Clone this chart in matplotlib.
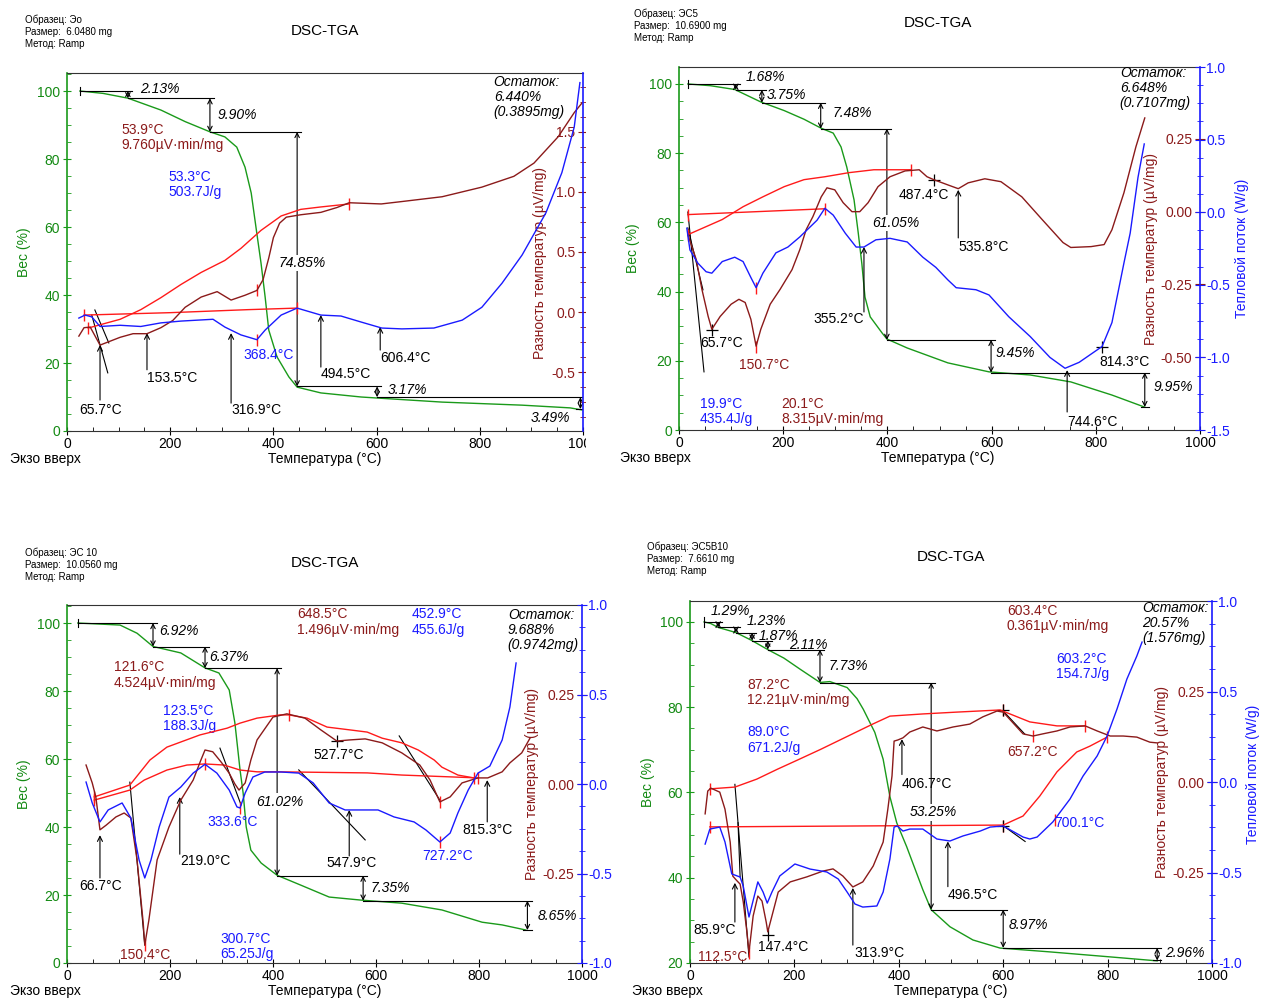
import matplotlib
matplotlib.use("Agg")
import matplotlib.pyplot as plt
from matplotlib.patches import Rectangle
from matplotlib.ticker import MultipleLocator, AutoMinorLocator, FormatStrFormatter

plt.rcParams['font.family'] = ['Liberation Sans', 'DejaVu Sans']
plt.rcParams['axes.unicode_minus'] = False

GREEN = '#1a9a1a'
GREEN_TXT = '#138a13'
BROWN = '#8b1a1a'
RED = '#ff1a1a'
BLUE = '#1a1aff'

# ---------------- панель 1: Эо ----------------
p1_tga_t = [25, 70, 118, 182, 229, 277, 306, 329, 345, 357, 368, 376, 384, 391, 407, 430, 446, 492, 570, 601, 727, 882, 975, 998]
p1_tga_w = [100, 99.3, 97.9, 94.4, 91.0, 88.0, 86.5, 83.5, 77.6, 70.0, 58.0, 49.4, 39.4, 29.7, 21.8, 15.9, 12.9, 11.2, 10.0, 9.7, 8.5, 7.6, 6.8, 6.2]
p1_dsc_t = [23, 33, 45, 64, 103, 128, 155, 182, 205, 229, 260, 291, 318, 345, 368, 380, 391, 400, 412, 425, 453, 492, 523, 547, 609, 649, 727, 804, 866, 905, 952, 983, 998]
p1_dsc_d = [-0.20, -0.13, -0.125, -0.275, -0.21, -0.18, -0.18, -0.13, -0.07, 0.04, 0.125, 0.17, 0.10, 0.14, 0.18, 0.27, 0.45, 0.62, 0.74, 0.79, 0.81, 0.83, 0.87, 0.91, 0.90, 0.92, 0.96, 1.04, 1.13, 1.24, 1.46, 1.66, 1.74]
p1_hf_t = [23, 35, 48, 64, 103, 143, 182, 221, 283, 306, 337, 368, 384, 415, 446, 492, 531, 570, 610, 649, 711, 766, 804, 843, 882, 928, 959, 983, 994]
p1_hf_v = [-0.05, -0.025, -0.04, -0.12, -0.11, -0.12, -0.09, -0.075, -0.06, -0.125, -0.19, -0.23, -0.15, -0.025, 0.033, -0.025, -0.033, -0.083, -0.133, -0.14, -0.133, -0.067, 0.04, 0.24, 0.475, 0.825, 1.16, 1.54, 1.91]
p1_ra_t = [41, 103, 143, 182, 221, 260, 306, 337, 376, 415, 453, 492, 547]
p1_ra_d = [-0.133, -0.06, 0.02, 0.12, 0.23, 0.33, 0.43, 0.53, 0.68, 0.80, 0.855, 0.875, 0.90]
p1_rb_t = [33, 200, 350, 446]
p1_rb_d = [-0.025, -0.005, 0.02, 0.033]
p1_step_t = [25, 118, 277, 446, 601, 995]
p1_step_pct = [2.13, 9.90, 74.85, 3.17, 3.49]
p1_step_lbl = [(141, 100.6, 'left'), (291, 93.0, 'left'), (455, 49.4, 'center'), (622, 12.1, 'left'), (975, 3.8, 'right')]
p1_peaks = [("65.7°C", 66, 6.2, 'center', 'k', 64, 9.1, 25.3),
            ("153.5°C", 155, 15.6, 'left', 'k', 155, 18.0, 28.8),
            ("316.9°C", 318, 6.2, 'left', 'k', 318, 8.2, 28.8),
            ("494.5°C", 492, 16.8, 'left', 'k', 492, 18.8, 34.1),
            ("606.4°C", 607, 21.5, 'left', 'k', 607, 23.8, 30.6),
            ("368.4°C", 341, 22.4, 'left', BLUE, None, 0, 0)]
p1_blocks = [("53.9°C\n9.760µV·min/mg", 105, 86.3, BROWN, 'normal'),
             ("53.3°C\n503.7J/g", 196, 72.5, BLUE, 'normal'),
             ("Остаток:\n6.440%\n(0.3895mg)", 827, 98.2, 'k', 'italic')]
p1_lines = [((54, 81), (35.6, 25.9)), ((48, 79), (34.1, 17.1))]
p1_plus = [(368, 26.8, RED), (368, 41.5, RED)]

# ---------------- панель 2: ЭС5 ----------------
p2_tga_t = [17, 60, 107, 157, 202, 240, 273, 296, 311, 322, 336, 344, 351, 357, 367, 390, 399, 438, 516, 595, 674, 752, 831, 894]
p2_tga_w = [100, 99.5, 98.4, 94.8, 92.3, 89.8, 87.2, 85.8, 81.8, 76.0, 66.5, 57.0, 48.0, 38.4, 32.7, 28.0, 26.3, 23.7, 19.4, 16.8, 15.9, 13.9, 10.1, 6.6]
p2_dsc_t = [17, 33, 44, 56, 63, 79, 100, 115, 127, 138, 148, 157, 175, 194, 217, 232, 244, 257, 273, 284, 299, 315, 332, 347, 363, 382, 405, 434, 461, 476, 489, 516, 536, 555, 587, 618, 658, 697, 737, 752, 791, 816, 831, 854, 877, 894]
p2_dsc_d = [-0.079, -0.164, -0.267, -0.36, -0.404, -0.36, -0.318, -0.301, -0.312, -0.37, -0.462, -0.404, -0.318, -0.267, -0.199, -0.13, -0.062, -0.017, 0.051, 0.082, 0.075, 0.031, 0.0, 0.0, 0.031, 0.086, 0.12, 0.14, 0.144, 0.12, 0.11, 0.092, 0.079, 0.099, 0.113, 0.103, 0.051, -0.027, -0.106, -0.123, -0.12, -0.113, -0.062, 0.065, 0.223, 0.322]
p2_hf_t = [15, 21, 36, 52, 63, 83, 107, 123, 138, 148, 161, 186, 209, 232, 265, 280, 296, 319, 340, 355, 378, 405, 438, 468, 493, 516, 532, 570, 595, 633, 674, 712, 741, 768, 812, 831, 854, 866, 881, 893]
p2_hf_v = [-0.11, -0.26, -0.35, -0.41, -0.42, -0.34, -0.31, -0.34, -0.45, -0.52, -0.42, -0.28, -0.24, -0.17, -0.055, 0.027, -0.02, -0.144, -0.24, -0.24, -0.19, -0.18, -0.205, -0.31, -0.38, -0.466, -0.52, -0.534, -0.57, -0.72, -0.856, -1.0, -1.075, -1.034, -0.925, -0.76, -0.35, -0.144, 0.24, 0.47]
p2_ra_t = [17, 83, 123, 161, 202, 240, 280, 326, 374, 445]
p2_ra_d = [-0.079, -0.027, 0.017, 0.051, 0.086, 0.11, 0.12, 0.134, 0.144, 0.144]
p2_rb_t = [17, 280]
p2_rb_d = [-0.01, 0.01]
p2_step_t = [17, 109, 159, 272, 399, 599, 894]
p2_step_pct = [1.68, 3.75, 7.48, 61.05, 9.45, 9.95]
p2_step_lbl = [(127, 102.0, 'left'), (169, 96.8, 'left'), (294, 91.6, 'left'), (417, 59.8, 'center'), (608, 22.3, 'left'), (910, 12.4, 'left')]
p2_peaks = [("65.7°C", 40, 25.1, 'left', 'k', None, 0, 0),
            ("150.7°C", 115, 18.8, 'left', BROWN, None, 0, 0),
            ("355.2°C", 355, 32.1, 'right', 'k', 355, 34.1, 52.9),
            ("487.4°C", 422, 67.9, 'left', 'k', None, 0, 0),
            ("535.8°C", 536, 52.9, 'left', 'k', 536, 55.5, 69.4),
            ("814.3°C", 806, 19.7, 'left', 'k', None, 0, 0),
            ("744.6°C", 745, 2.3, 'left', 'k', 745, 5.2, 17.3)]
p2_blocks = [("19.9°C\n435.4J/g", 40, 5.3, BLUE, 'normal'),
             ("20.1°C\n8.315µV·min/mg", 196, 5.3, BROWN, 'normal'),
             ("Остаток:\n6.648%\n(0.7107mg)", 846, 98.8, 'k', 'italic')]
p2_lines = [((17, 48), (63, 16.8)), ((17, 46), (58.4, 40.5))]
p2_plus = [(63, 28.9, 'k'), (489, 72.3, 'k'), (812, 24.0, 'k'), (148, 24.0, RED), (148, 41.0, RED)]

# ---------------- панель 3: ЭС 10 ----------------
p3_tga_t = [21, 103, 136, 167, 221, 268, 295, 315, 326, 336, 342, 348, 357, 377, 408, 454, 509, 571, 650, 728, 806, 845, 891]
p3_tga_w = [100, 99.4, 97.0, 93.1, 91.2, 86.8, 85.3, 80.3, 70.6, 56.8, 50.0, 40.0, 33.2, 29.4, 25.8, 22.9, 19.4, 18.5, 17.6, 15.6, 12.0, 11.2, 9.7]
p3_dsc_t = [37, 49, 56, 64, 76, 95, 111, 124, 136, 148, 151, 159, 175, 198, 221, 245, 260, 268, 283, 300, 315, 326, 334, 346, 357, 369, 400, 427, 462, 493, 524, 548, 579, 612, 650, 685, 705, 724, 744, 767, 798, 817, 845, 860, 883, 899]
p3_dsc_d = [0.053, 0.003, -0.036, -0.128, -0.115, -0.092, -0.081, -0.095, -0.212, -0.388, -0.45, -0.38, -0.212, -0.12, -0.045, 0.011, 0.067, 0.095, 0.09, 0.06, 0.03, 0.0, -0.017, 0.003, 0.067, 0.123, 0.187, 0.196, 0.184, 0.151, 0.12, 0.123, 0.126, 0.115, 0.087, 0.053, 0.011, -0.05, -0.036, 0.003, 0.017, 0.017, 0.034, 0.059, 0.087, 0.128]
p3_hf_t = [37, 49, 64, 80, 107, 124, 140, 151, 163, 179, 198, 221, 245, 268, 291, 315, 330, 336, 346, 361, 384, 416, 450, 478, 509, 540, 571, 604, 635, 674, 697, 724, 744, 759, 779, 798, 821, 845, 860, 872]
p3_hf_v = [0.011, -0.106, -0.212, -0.145, -0.106, -0.19, -0.425, -0.525, -0.425, -0.24, -0.073, -0.017, 0.061, 0.11, 0.061, -0.034, -0.128, -0.134, -0.05, 0.039, 0.067, 0.067, 0.061, 0.006, -0.106, -0.145, -0.145, -0.145, -0.184, -0.212, -0.257, -0.324, -0.274, -0.162, -0.034, 0.061, 0.10, 0.246, 0.43, 0.676]
p3_ra_t = [53, 122, 161, 194, 258, 311, 336, 369, 414, 431, 466, 505, 550, 583, 612, 650, 682, 713, 728, 759, 790]
p3_ra_d = [-0.036, -0.003, 0.067, 0.103, 0.137, 0.156, 0.17, 0.184, 0.193, 0.193, 0.184, 0.159, 0.151, 0.145, 0.128, 0.115, 0.095, 0.067, 0.047, 0.025, 0.017]
p3_rb_t = [53, 122, 150, 194, 233, 268, 305, 336, 369, 410, 583, 650, 798]
p3_rb_d = [-0.045, -0.017, 0.011, 0.039, 0.053, 0.056, 0.053, 0.039, 0.034, 0.034, 0.031, 0.025, 0.017]
p3_step_t = [21, 167, 268, 408, 575, 894]
p3_step_pct = [6.92, 6.37, 61.02, 7.35, 8.65]
p3_step_lbl = [(179, 97.6, 'left'), (276, 90.0, 'left'), (414, 47.4, 'center'), (590, 22.0, 'left'), (913, 13.8, 'left')]
p3_peaks = [("66.7°C", 66, 22.6, 'center', 'k', 64, 25.0, 37.6),
            ("150.4°C", 103, 2.4, 'left', BROWN, None, 0, 0),
            ("219.0°C", 219, 30.0, 'left', 'k', 219, 32.0, 48.8),
            ("333.6°C", 272, 41.5, 'left', BLUE, None, 0, 0),
            ("527.7°C", 478, 61.2, 'left', 'k', None, 0, 0),
            ("547.9°C", 503, 29.4, 'left', 'k', 548, 31.5, 45.0),
            ("727.2°C", 689, 31.5, 'left', BLUE, None, 0, 0),
            ("815.3°C", 767, 39.1, 'left', 'k', 816, 41.5, 53.8)]
p3_blocks = [("300.7°C\n65.25J/g", 297, 4.9, BLUE, 'normal'),
             ("648.5°C\n1.496µV·min/mg", 447, 100.3, BROWN, 'normal'),
             ("452.9°C\n455.6J/g", 670, 100.3, BLUE, 'normal'),
             ("Остаток:\n9.688%\n(0.9742mg)", 856, 97.9, 'k', 'italic'),
             ("121.6°C\n4.524µV·min/mg", 91, 84.7, BROWN, 'normal'),
             ("123.5°C\n188.3J/g", 186, 71.9, BLUE, 'normal')]
p3_lines = [((122, 151), (53.2, 5.3)), ((297, 338), (63.2, 46.5)), ((450, 579), (56.8, 36.2)), ((645, 724), (66.8, 47.9))]
p3_plus = [(524, 65.3, 'k'), (151, 5.3, RED), (336, 45.6, RED), (724, 47.4, RED), (724, 35.6, RED), (268, 58.6, RED), (431, 72.9, RED)]

# ---------------- панель 4: ЭС5В10 ----------------
p4_tga_t = [27, 40, 54, 88, 119, 149, 180, 211, 249, 268, 301, 320, 332, 354, 370, 383, 396, 415, 446, 462, 498, 542, 594, 690, 808, 895]
p4_tga_w = [100, 99.6, 98.7, 97.5, 95.6, 93.5, 91.5, 88.9, 85.8, 86.0, 84.6, 82.0, 79.5, 74.1, 67.8, 59.0, 52.9, 47.3, 37.2, 32.5, 28.5, 25.4, 23.5, 22.6, 21.4, 20.5]
p4_dsc_t = [29, 34, 40, 57, 67, 77, 82, 90, 96, 102, 109, 113, 121, 130, 138, 146, 149, 157, 169, 192, 224, 255, 274, 293, 312, 331, 351, 370, 379, 387, 391, 398, 408, 421, 446, 473, 504, 536, 561, 588, 600, 638, 657, 676, 703, 728, 757, 780, 805, 830, 856, 881, 895]
p4_dsc_d = [-0.088, -0.025, -0.017, -0.028, -0.075, -0.166, -0.26, -0.273, -0.282, -0.331, -0.414, -0.47, -0.37, -0.315, -0.329, -0.387, -0.414, -0.37, -0.304, -0.276, -0.262, -0.246, -0.24, -0.26, -0.29, -0.276, -0.232, -0.166, -0.075, 0.017, 0.113, 0.116, 0.122, 0.138, 0.152, 0.141, 0.152, 0.16, 0.18, 0.196, 0.193, 0.133, 0.127, 0.133, 0.141, 0.152, 0.155, 0.141, 0.127, 0.127, 0.124, 0.11, 0.108]
p4_hf_t = [29, 38, 57, 67, 80, 96, 102, 113, 125, 130, 140, 148, 157, 172, 201, 230, 262, 284, 301, 316, 331, 358, 370, 383, 391, 397, 408, 421, 446, 473, 498, 523, 556, 575, 600, 638, 651, 665, 695, 728, 753, 780, 799, 818, 837, 856, 866]
p4_hf_v = [-0.343, -0.26, -0.249, -0.331, -0.508, -0.525, -0.575, -0.746, -0.608, -0.552, -0.608, -0.669, -0.608, -0.519, -0.453, -0.481, -0.497, -0.536, -0.608, -0.674, -0.691, -0.685, -0.608, -0.425, -0.249, -0.243, -0.271, -0.26, -0.26, -0.315, -0.326, -0.298, -0.271, -0.249, -0.243, -0.304, -0.315, -0.304, -0.221, -0.094, 0.033, 0.144, 0.254, 0.403, 0.569, 0.696, 0.773]
p4_ra_t = [38, 86, 128, 167, 205, 250, 300, 350, 383, 446, 510, 594, 613, 651, 703, 757]
p4_ra_d = [-0.019, -0.014, 0.008, 0.035, 0.06, 0.09, 0.125, 0.16, 0.182, 0.188, 0.193, 0.199, 0.188, 0.166, 0.155, 0.155]
p4_rb_t = [38, 600, 638, 670, 703, 741, 766, 799]
p4_rb_d = [-0.124, -0.119, -0.094, -0.039, 0.028, 0.083, 0.099, 0.124]
p4_step_t = [27, 54, 88, 119, 149, 249, 462, 600, 895]
p4_step_pct = [1.29, 1.23, 1.87, 2.11, 7.73, 53.25, 8.97, 2.96]
p4_step_lbl = [(40, 102.6, 'left'), (109, 100.2, 'left'), (132, 96.8, 'left'), (190, 94.6, 'left'), (266, 89.6, 'left'), (467, 55.3, 'center'), (611, 28.9, 'left'), (910, 22.4, 'left')]
p4_peaks = [("85.9°C", 48, 27.8, 'center', 'k', 86, 29.6, 38.8),
            ("112.5°C", 15, 21.4, 'left', BROWN, None, 0, 0),
            ("147.4°C", 130, 23.8, 'left', 'k', None, 0, 0),
            ("313.9°C", 314, 22.4, 'left', 'k', 312, 24.2, 37.6),
            ("406.7°C", 406, 61.9, 'left', 'k', 406, 64.2, 72.5),
            ("496.5°C", 494, 36.0, 'left', 'k', 494, 37.9, 48.5),
            ("657.2°C", 607, 69.4, 'left', BROWN, None, 0, 0),
            ("700.1°C", 697, 52.9, 'left', BLUE, None, 0, 0)]
p4_blocks = [("603.4°C\n0.361µV·min/mg", 607, 100.7, BROWN, 'normal'),
             ("603.2°C\n154.7J/g", 701, 89.5, BLUE, 'normal'),
             ("87.2°C\n12.21µV·min/mg", 109, 83.4, BROWN, 'normal'),
             ("89.0°C\n671.2J/g", 109, 72.3, BLUE, 'normal'),
             ("Остаток:\n20.57%\n(1.576mg)", 866, 99.8, 'k', 'italic')]
p4_lines = [((86, 113), (61.9, 21.4)), ((92, 96), (52.9, 40.2)), ((600, 642), (79.1, 73.6)), ((600, 642), (52.2, 48.5))]
p4_plus = [(149, 26.6, 'k'), (600, 79.3, RED), (600, 52.2, RED), (600, 79.3, 'k'), (600, 52.2, 'k'),
           (113, 22.4, RED), (657, 73.2, RED), (699, 53.6, RED)]

W, H = 1262, 998


def fx(x):
    return x / W


def fy(y):
    return 1 - y / H


panels = [
    dict(rect=[fx(67), fy(431), 516 / W, 358 / H], wlim=(0, 105.3), dlim=(-0.99, 1.99),
         dticks=[-0.5, 0.0, 0.5, 1.0, 1.5], dfmt='%.1f', dminor=True, hlim=(-0.99, 1.99), hticks=None,
         wlab=(-0.07, 0.5), dlab=(0.93, 0.47), hlab=None,
         tga=(p1_tga_t, p1_tga_w), dsc=(p1_dsc_t, p1_dsc_d), hf=(p1_hf_t, p1_hf_v),
         ra=(p1_ra_t, p1_ra_d), rb=(p1_rb_t, p1_rb_d), steps=(p1_step_t, p1_step_pct, p1_step_lbl),
         peaks=p1_peaks, blocks=p1_blocks, lines=p1_lines, plus=p1_plus,
         head=(25, 20, "Образец: Эо", "Размер:  6.0480 mg"), title=(325, 31), xlab=(325, 459), exo=(10, 459)),
    dict(rect=[fx(679), fy(430), 521 / W, 363 / H], wlim=(0, 104.9), dlim=(-0.75, 0.497),
         dticks=[-0.5, -0.25, 0.0, 0.25], dfmt='%.2f', dminor=False, hlim=(-1.5, 0.993),
         hticks=[-1.5, -1.0, -0.5, 0.0, 0.5, 1.0],
         wlab=(-0.075, 0.5), dlab=(0.919, 0.5), hlab=(1.067, 0.5),
         tga=(p2_tga_t, p2_tga_w), dsc=(p2_dsc_t, p2_dsc_d), hf=(p2_hf_t, p2_hf_v),
         ra=(p2_ra_t, p2_ra_d), rb=(p2_rb_t, p2_rb_d), steps=(p2_step_t, p2_step_pct, p2_step_lbl),
         peaks=p2_peaks, blocks=p2_blocks, lines=p2_lines, plus=p2_plus,
         head=(634, 14, "Образец: ЭС5", "Размер:  10.6900 mg"), title=(938, 23), xlab=(938, 458), exo=(620, 458)),
    dict(rect=[fx(67), fy(963), 515 / W, 358 / H], wlim=(0, 105.3), dlim=(-0.5, 0.5),
         dticks=[-0.25, 0.0, 0.25], dfmt='%.2f', dminor=False, hlim=(-1.0, 1.0),
         hticks=[-1.0, -0.5, 0.0, 0.5, 1.0],
         wlab=(-0.07, 0.5), dlab=(0.917, 0.5), hlab=None,
         tga=(p3_tga_t, p3_tga_w), dsc=(p3_dsc_t, p3_dsc_d), hf=(p3_hf_t, p3_hf_v),
         ra=(p3_ra_t, p3_ra_d), rb=(p3_rb_t, p3_rb_d), steps=(p3_step_t, p3_step_pct, p3_step_lbl),
         peaks=p3_peaks, blocks=p3_blocks, lines=p3_lines, plus=p3_plus,
         head=(25, 553, "Образец: ЭС 10", "Размер:  10.0560 mg"), title=(325, 563), xlab=(325, 991), exo=(10, 991)),
    dict(rect=[fx(690), fy(963), 522 / W, 362 / H], wlim=(20, 104.9), dlim=(-0.5, 0.5),
         dticks=[-0.25, 0.0, 0.25], dfmt='%.2f', dminor=False, hlim=(-1.0, 1.0),
         hticks=[-1.0, -0.5, 0.0, 0.5, 1.0],
         wlab=(-0.068, 0.5), dlab=(0.918, 0.5), hlab=(1.065, 0.52),
         tga=(p4_tga_t, p4_tga_w), dsc=(p4_dsc_t, p4_dsc_d), hf=(p4_hf_t, p4_hf_v),
         ra=(p4_ra_t, p4_ra_d), rb=(p4_rb_t, p4_rb_d), steps=(p4_step_t, p4_step_pct, p4_step_lbl),
         peaks=p4_peaks, blocks=p4_blocks, lines=p4_lines, plus=p4_plus,
         head=(647, 547, "Образец: ЭС5В10", "Размер:  7.6610 mg"), title=(951, 557), xlab=(951, 991), exo=(632, 991)),
]

fig = plt.figure(figsize=(W / 100, H / 100), dpi=100)


def draw_steps(ax, t, pct, lbl, ext=8):
    levels = [100.0]
    for p in pct:
        levels.append(levels[-1] - p)
    kw = dict(color='k', lw=0.8)
    ax.plot([t[0], t[0]], [levels[0] - 1.2, levels[0] + 1.2], **kw)
    for i in range(len(pct)):
        ax.plot([t[i], t[i + 1] + ext], [levels[i], levels[i]], **kw)
        ax.annotate('', xy=(t[i + 1], levels[i + 1]), xytext=(t[i + 1], levels[i]),
                    arrowprops=dict(arrowstyle='<->', color='k', lw=0.8, shrinkA=0, shrinkB=0,
                                    mutation_scale=8))
        lt, lw_, ha = lbl[i]
        bb = dict(fc='white', ec='none', pad=1) if ha == 'center' else None
        ax.text(lt, lw_, f'{pct[i]:.2f}%', style='italic', fontsize=10, ha=ha, va='center', bbox=bb)
    ax.plot([t[-1] - ext, t[-1] + ext], [levels[-1]] * 2, **kw)


for p in panels:
    ax = fig.add_axes(p['rect'])
    ax.set_xlim(0, 1000)
    ax.set_ylim(*p['wlim'])
    ax.xaxis.set_major_locator(MultipleLocator(200))
    ax.xaxis.set_minor_locator(MultipleLocator(50))
    ax.yaxis.set_major_locator(MultipleLocator(20))
    ax.yaxis.set_minor_locator(MultipleLocator(5))
    ax.tick_params(axis='x', which='major', direction='inout', length=6, labelsize=10, pad=1)
    ax.tick_params(axis='x', which='minor', direction='in', length=3)
    ax.tick_params(axis='y', which='major', direction='inout', length=6, colors=GREEN, labelsize=10,
                   labelcolor=GREEN_TXT, pad=2)
    ax.tick_params(axis='y', which='minor', direction='in', length=3, colors=GREEN)
    ax.spines['left'].set_color(GREEN)
    ax.spines['left'].set_linewidth(1.2)
    ax.spines['right'].set_visible(False)
    ax.spines['top'].set_color('#333333')
    ax.spines['bottom'].set_color('#333333')
    ax.set_ylabel('Вес (%)', color=GREEN_TXT, fontsize=10)
    ax.yaxis.set_label_coords(*p['wlab'])

    # ось ДСК (µV/mg), подписи внутри поля
    axd = ax.twinx()
    for s in axd.spines.values():
        s.set_visible(False)
    axd.set_ylim(*p['dlim'])
    axd.set_yticks(p['dticks'])
    axd.yaxis.set_major_formatter(FormatStrFormatter(p['dfmt']))
    axd.yaxis.tick_left()
    axd.yaxis.set_label_position('left')
    axd.spines['left'].set_position(('axes', 1.0))
    axd.tick_params(axis='y', which='major', direction='inout', length=7, colors=BROWN, labelsize=10, pad=2)
    if p['dminor']:
        axd.yaxis.set_minor_locator(AutoMinorLocator(4))
        axd.tick_params(axis='y', which='minor', direction='inout', length=4, colors=BROWN)
    axd.set_ylabel('Разность температур (µV/mg)', color=BROWN, fontsize=10)
    axd.yaxis.set_label_coords(*p['dlab'])

    # ось теплового потока (W/g)
    axh = ax.twinx()
    for k in ['left', 'top', 'bottom']:
        axh.spines[k].set_visible(False)
    axh.spines['right'].set_color(BLUE)
    axh.spines['right'].set_linewidth(1.2)
    axh.set_ylim(*p['hlim'])
    if p['hticks'] is None:
        axh.set_yticks([])
    else:
        axh.set_yticks(p['hticks'])
        axh.yaxis.set_major_formatter(FormatStrFormatter('%.1f'))
        axh.yaxis.set_minor_locator(AutoMinorLocator(4))
        axh.tick_params(axis='y', which='major', direction='inout', length=7, colors=BLUE, labelsize=10, pad=1)
        axh.tick_params(axis='y', which='minor', direction='inout', length=4, colors=BLUE)
    if p['hlab'] is not None:
        axh.set_ylabel('Тепловой поток (W/g)', color=BLUE, fontsize=10)
        axh.yaxis.set_label_coords(*p['hlab'])

    # кривые
    ax.plot(*p['tga'], color=GREEN, lw=1.0)
    ra_t, ra_d = p['ra']
    rb_t, rb_d = p['rb']
    axd.plot(ra_t, ra_d, color=RED, lw=1.0, marker='|', markevery=[0, len(ra_t) - 1], ms=9)
    axd.plot(rb_t, rb_d, color=RED, lw=1.0, marker='|', markevery=[0, len(rb_t) - 1], ms=9)
    axd.plot(*p['dsc'], color=BROWN, lw=1.0)
    axh.plot(*p['hf'], color=BLUE, lw=1.0)

    # ступени потери массы
    draw_steps(ax, *p['steps'])

    # касательные
    for (lt, lw_) in p['lines']:
        ax.plot(lt, lw_, color='k', lw=0.8)

    # пики
    for txt, tt, tw, ha, col, at, w0, w1 in p['peaks']:
        ax.text(tt, tw, txt, color=col, fontsize=10, ha=ha, va='center')
        if at is not None:
            ax.annotate('', xy=(at, w1), xytext=(at, w0),
                        arrowprops=dict(arrowstyle='->', color='k', lw=0.8, shrinkA=0, shrinkB=0,
                                        mutation_scale=9))
    for tt, tw, col in p['plus']:
        if col == RED:
            ax.plot(tt, tw, marker='|', color=RED, ms=9, mew=1.0)
        else:
            ax.plot(tt, tw, marker='+', color='k', ms=9, mew=0.9)

    for txt, tt, tw, col, st in p['blocks']:
        ax.text(tt, tw, txt, color=col, fontsize=10, ha='left', va='center', style=st, linespacing=1.1)

    # шапка
    hx, hy, s1, s2 = p['head']
    fig.text(fx(hx), fy(hy), s1, fontsize=7, va='center')
    fig.text(fx(hx), fy(hy + 12), s2, fontsize=7, va='center')
    fig.text(fx(hx), fy(hy + 24), "Метод: Ramp", fontsize=7, va='center')
    fig.text(fx(p['title'][0]), fy(p['title'][1]), "DSC-TGA", fontsize=11, ha='center', va='center')
    fig.text(fx(p['xlab'][0]), fy(p['xlab'][1]), "Температура (°C)", fontsize=10, ha='center', va='center')
    fig.text(fx(p['exo'][0]), fy(p['exo'][1]), "Экзо вверх", fontsize=10, ha='left', va='center')

# левая верхняя картинка обрезана справа
fig.add_artist(Rectangle((fx(586), fy(470)), 32 / W, 410 / H, transform=fig.transFigure,
                         facecolor='white', edgecolor='none', zorder=20))

fig.savefig('out.png', dpi=100)
